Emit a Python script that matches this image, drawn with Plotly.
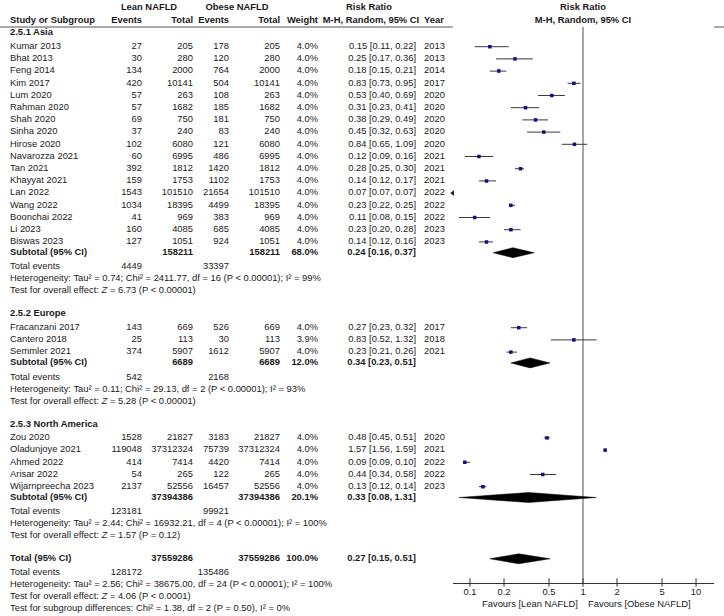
import math
import plotly.graph_objects as go

# ---------------- data ----------------
asia_study = ["Kumar 2013", "Bhat 2013", "Feng 2014", "Kim 2017", "Lum 2020", "Rahman 2020",
              "Shah 2020", "Sinha 2020", "Hirose 2020", "Navarozza 2021", "Tan 2021",
              "Khayyat 2021", "Lan 2022", "Wang 2022", "Boonchai 2022", "Li 2023", "Biswas 2023"]
asia_lean_ev = [27, 30, 134, 420, 57, 57, 69, 37, 102, 60, 392, 159, 1543, 1034, 41, 160, 127]
asia_lean_tot = [205, 280, 2000, 10141, 263, 1682, 750, 240, 6080, 6995, 1812, 1753, 101510, 18395, 969, 4085, 1051]
asia_ob_ev = [178, 120, 764, 504, 108, 185, 181, 83, 121, 486, 1420, 1102, 21654, 4499, 383, 685, 924]
asia_ob_tot = [205, 280, 2000, 10141, 263, 1682, 750, 240, 6080, 6995, 1812, 1753, 101510, 18395, 969, 4085, 1051]
asia_weight = [4.0] * 17
asia_rr = [0.15, 0.25, 0.18, 0.83, 0.53, 0.31, 0.38, 0.45, 0.84, 0.12, 0.28, 0.14, 0.07, 0.23, 0.11, 0.23, 0.14]
asia_lo = [0.11, 0.17, 0.15, 0.73, 0.40, 0.23, 0.29, 0.32, 0.65, 0.09, 0.25, 0.12, 0.07, 0.22, 0.08, 0.20, 0.12]
asia_hi = [0.22, 0.36, 0.21, 0.95, 0.69, 0.41, 0.49, 0.63, 1.09, 0.16, 0.30, 0.17, 0.07, 0.25, 0.15, 0.28, 0.16]
asia_year = [2013, 2013, 2014, 2017, 2020, 2020, 2020, 2020, 2020, 2021, 2021, 2021, 2022, 2022, 2022, 2023, 2023]
asia_sub = dict(lean_tot=158211, ob_tot=158211, weight=68.0, rr=0.24, lo=0.16, hi=0.37,
                lean_ev=4449, ob_ev=33397,
                het="Heterogeneity: Tau² = 0.74; Chi² = 2411.77, df = 16 (P < 0.00001); I² = 99%",
                test="Test for overall effect: <i>Z</i> = 6.73 (P < 0.00001)")

eur_study = ["Fracanzani 2017", "Cantero 2018", "Semmler 2021"]
eur_lean_ev = [143, 25, 374]
eur_lean_tot = [669, 113, 5907]
eur_ob_ev = [526, 30, 1612]
eur_ob_tot = [669, 113, 5907]
eur_weight = [4.0, 3.9, 4.0]
eur_rr = [0.27, 0.83, 0.23]
eur_lo = [0.23, 0.52, 0.21]
eur_hi = [0.32, 1.32, 0.26]
eur_year = [2017, 2018, 2021]
eur_sub = dict(lean_tot=6689, ob_tot=6689, weight=12.0, rr=0.34, lo=0.23, hi=0.51,
               lean_ev=542, ob_ev=2168,
               het="Heterogeneity: Tau² = 0.11; Chi² = 29.13, df = 2 (P < 0.00001); I² = 93%",
               test="Test for overall effect: <i>Z</i> = 5.28 (P < 0.00001)")

na_study = ["Zou 2020", "Oladunjoye 2021", "Ahmed 2022", "Arisar 2022", "Wijarnpreecha 2023"]
na_lean_ev = [1528, 119048, 414, 54, 2137]
na_lean_tot = [21827, 37312324, 7414, 265, 52556]
na_ob_ev = [3183, 75739, 4420, 122, 16457]
na_ob_tot = [21827, 37312324, 7414, 265, 52556]
na_weight = [4.0, 4.0, 4.0, 4.0, 4.0]
na_rr = [0.48, 1.57, 0.09, 0.44, 0.13]
na_lo = [0.45, 1.56, 0.09, 0.34, 0.12]
na_hi = [0.51, 1.59, 0.10, 0.58, 0.14]
na_year = [2020, 2021, 2022, 2022, 2023]
na_sub = dict(lean_tot=37394386, ob_tot=37394386, weight=20.1, rr=0.33, lo=0.08, hi=1.31,
              lean_ev=123181, ob_ev=99921,
              het="Heterogeneity: Tau² = 2.44; Chi² = 16932.21, df = 4 (P < 0.00001); I² = 100%",
              test="Test for overall effect: <i>Z</i> = 1.57 (P = 0.12)")

overall = dict(lean_tot=37559286, ob_tot=37559286, weight=100.0, rr=0.27, lo=0.15, hi=0.51,
               lean_ev=128172, ob_ev=135486,
               het="Heterogeneity: Tau² = 2.56; Chi² = 38675.00, df = 24 (P < 0.00001); I² = 100%",
               test="Test for overall effect: <i>Z</i> = 4.06 (P < 0.0001)",
               subgroup="Test for subgroup differences: Chi² = 1.38, df = 2 (P = 0.50), I² = 0%")

sections = [
    ("2.5.1 Asia", asia_study, asia_lean_ev, asia_lean_tot, asia_ob_ev, asia_ob_tot, asia_weight,
     asia_rr, asia_lo, asia_hi, asia_year, asia_sub),
    ("2.5.2 Europe", eur_study, eur_lean_ev, eur_lean_tot, eur_ob_ev, eur_ob_tot, eur_weight,
     eur_rr, eur_lo, eur_hi, eur_year, eur_sub),
    ("2.5.3 North America", na_study, na_lean_ev, na_lean_tot, na_ob_ev, na_ob_tot, na_weight,
     na_rr, na_lo, na_hi, na_year, na_sub),
]

tick_vals = [0.1, 0.2, 0.5, 1, 2, 5, 10]
tick_text = ["0.1", "0.2", "0.5", "1", "2", "5", "10"]

# ---------------- layout constants ----------------
W, H = 724, 616
FONT = "Arial, 'Liberation Sans', sans-serif"
FS = 9.4
TXT = "#1a1a1a"
COL = dict(name=10, lean_ev=142, lean_tot=193, ob_ev=229, ob_tot=280, weight=318, rr=416, year=424)
RIGHT = {"lean_ev", "lean_tot", "ob_ev", "ob_tot", "weight", "rr"}
AX_Y = 583
HDR_LINE_Y = 27
LOG_RANGE = [-1.153, 1.159]
FOREST_X0, FOREST_X1 = 452.7, 714

# ---------------- build rows ----------------
cells = {k: ([], []) for k in COL}   # y list, text list
def put(col, y, text):
    cells[col][0].append(y)
    cells[col][1].append(text)

ci_x, ci_y, pt_x, pt_y, arrow_x, arrow_y = [], [], [], [], [], []
diamonds = []

def fmt_rr(r, l, h):
    return f"{r:.2f} [{l:.2f}, {h:.2f}]"

def summary_block(y, label, s):
    put("name", y, f"<b>{label}</b>")
    put("lean_tot", y, f"<b>{s['lean_tot']}</b>")
    put("ob_tot", y, f"<b>{s['ob_tot']}</b>")
    put("weight", y, f"<b>{s['weight']:.1f}%</b>")
    put("rr", y, f"<b>{fmt_rr(s['rr'], s['lo'], s['hi'])}</b>")
    diamonds.append((y, s["lo"], s["rr"], s["hi"]))
    y += 14.3
    put("name", y, "Total events")
    put("lean_ev", y, str(s["lean_ev"]))
    put("ob_ev", y, str(s["ob_ev"]))
    y += 12
    put("name", y, s["het"])
    y += 12
    put("name", y, s["test"])
    return y

x_min = 10 ** LOG_RANGE[0]
y = 33.0
for (title, study, lev, ltot, oev, otot, wt, rr, lo, hi, yr, sub) in sections:
    put("name", y, f"<b>{title}</b>")
    y += 13.7
    for i in range(len(study)):
        if i > 0:
            y += 12.2
        put("name", y, study[i])
        put("lean_ev", y, str(lev[i]))
        put("lean_tot", y, str(ltot[i]))
        put("ob_ev", y, str(oev[i]))
        put("ob_tot", y, str(otot[i]))
        put("weight", y, f"{wt[i]:.1f}%")
        put("rr", y, fmt_rr(rr[i], lo[i], hi[i]))
        put("year", y, str(yr[i]))
        if hi[i] < x_min:
            arrow_x.append(x_min)
            arrow_y.append(y)
        else:
            ci_x += [lo[i], hi[i], None]
            ci_y += [y, y, None]
            pt_x.append(rr[i])
            pt_y.append(y)
    y += 10.8
    y = summary_block(y, "Subtotal (95% CI)", sub)
    y += 23

y = summary_block(y, "Total (95% CI)", overall)
y += 12
put("name", y, overall["subgroup"])

# ---------------- figure ----------------
fig = go.Figure()
font = dict(family=FONT, size=FS, color=TXT)

# table text
for col, (ys, ts) in cells.items():
    fig.add_trace(go.Scatter(
        x=[COL[col]] * len(ys), y=ys, text=ts, mode="text",
        textposition="middle left" if col in RIGHT else "middle right",
        textfont=font, hoverinfo="skip", cliponaxis=False, xaxis="x", yaxis="y"))

# headers
hdr = [
    (149, 8, "<b>Lean NAFLD</b>", "middle center"),
    (237, 8, "<b>Obese NAFLD</b>", "middle center"),
    (369, 8, "<b>Risk Ratio</b>", "middle center"),
    (COL["name"], 21, "<b>Study or Subgroup</b>", "middle right"),
    (COL["lean_ev"], 21, "<b>Events</b>", "middle left"),
    (COL["lean_tot"], 21, "<b>Total</b>", "middle left"),
    (COL["ob_ev"], 21, "<b>Events</b>", "middle left"),
    (COL["ob_tot"], 21, "<b>Total</b>", "middle left"),
    (COL["weight"], 21, "<b>Weight</b>", "middle left"),
    (371, 21, "<b>M-H, Random, 95% CI</b>", "middle center"),
    (COL["year"], 21, "<b>Year</b>", "middle right"),
]
for hx, hy, ht, hp in hdr:
    fig.add_trace(go.Scatter(x=[hx], y=[hy], text=[ht], mode="text", textposition=hp,
                             textfont=font, hoverinfo="skip", cliponaxis=False,
                             xaxis="x", yaxis="y"))
# forest headers
fig.add_trace(go.Scatter(x=[1, 1], y=[8, 21], text=["<b>Risk Ratio</b>", "<b>M-H, Random, 95% CI</b>"],
                         mode="text", textposition="middle center", textfont=font,
                         hoverinfo="skip", cliponaxis=False, xaxis="x2", yaxis="y"))

# header underline
fig.add_trace(go.Scatter(x=[0, W], y=[HDR_LINE_Y, HDR_LINE_Y], mode="lines",
                         line=dict(color="#555555", width=1), hoverinfo="skip",
                         cliponaxis=False, xaxis="x", yaxis="y"))

# line of no effect
fig.add_trace(go.Scatter(x=[1, 1], y=[HDR_LINE_Y, AX_Y], mode="lines",
                         line=dict(color="#8a8a8a", width=1.5), hoverinfo="skip",
                         cliponaxis=False, xaxis="x2", yaxis="y"))

# CI lines
fig.add_trace(go.Scatter(x=ci_x, y=ci_y, mode="lines", line=dict(color="#3a3a3a", width=1),
                         hoverinfo="skip", xaxis="x2", yaxis="y"))
# point estimates
fig.add_trace(go.Scatter(x=pt_x, y=pt_y, mode="markers",
                         marker=dict(symbol="square", size=3.5, color="#10108a"),
                         hoverinfo="skip", xaxis="x2", yaxis="y"))
# off-scale arrows
fig.add_trace(go.Scatter(x=arrow_x, y=arrow_y, mode="markers",
                         marker=dict(symbol="triangle-left", size=5, color="#1a1a3a"),
                         hoverinfo="skip", cliponaxis=False, xaxis="x2", yaxis="y"))
# diamonds
for (dy, dlo, drr, dhi) in diamonds:
    fig.add_trace(go.Scatter(x=[dlo, drr, dhi, drr, dlo], y=[dy, dy - 5, dy, dy + 5, dy],
                             mode="lines", fill="toself", fillcolor="black",
                             line=dict(color="black", width=0.5), hoverinfo="skip",
                             xaxis="x2", yaxis="y"))

# tick marks crossing the axis
fig.add_trace(go.Scatter(x=tick_vals, y=[AX_Y - 0.5] * len(tick_vals), mode="markers",
                         marker=dict(symbol="line-ns", size=6, line=dict(color="#333333", width=1)),
                         hoverinfo="skip", cliponaxis=False, xaxis="x2", yaxis="y"))

# favours labels
fig.add_annotation(x=0, y=603, xref="x2", yref="y", text="Favours [Lean NAFLD]",
                   xanchor="right", yanchor="middle", xshift=-3, showarrow=False, font=font)
fig.add_annotation(x=0, y=603, xref="x2", yref="y", text="Favours [Obese NAFLD]",
                   xanchor="left", yanchor="middle", xshift=3, showarrow=False, font=font)

fig.update_layout(
    width=W, height=H, margin=dict(l=0, r=0, t=0, b=0, autoexpand=False),
    paper_bgcolor="white", plot_bgcolor="white", showlegend=False, hovermode=False,
    xaxis=dict(range=[0, W], domain=[0, 1], visible=False, fixedrange=True),
    yaxis=dict(range=[H, 0], domain=[0, 1], visible=False, fixedrange=True),
    xaxis2=dict(type="log", range=LOG_RANGE, domain=[FOREST_X0 / W, FOREST_X1 / W],
                anchor="free", position=(H - AX_Y) / H,
                showline=True, linecolor="#333333", linewidth=1,
                showgrid=False, zeroline=False, ticks="",
                tickvals=tick_vals, ticktext=tick_text,
                tickfont=dict(family=FONT, size=FS, color=TXT), fixedrange=True),
)

fig.write_html("out.html", config={"displayModeBar": False, "staticPlot": True},
               post_script="document.body.style.margin='0';document.body.style.overflow='hidden';")
